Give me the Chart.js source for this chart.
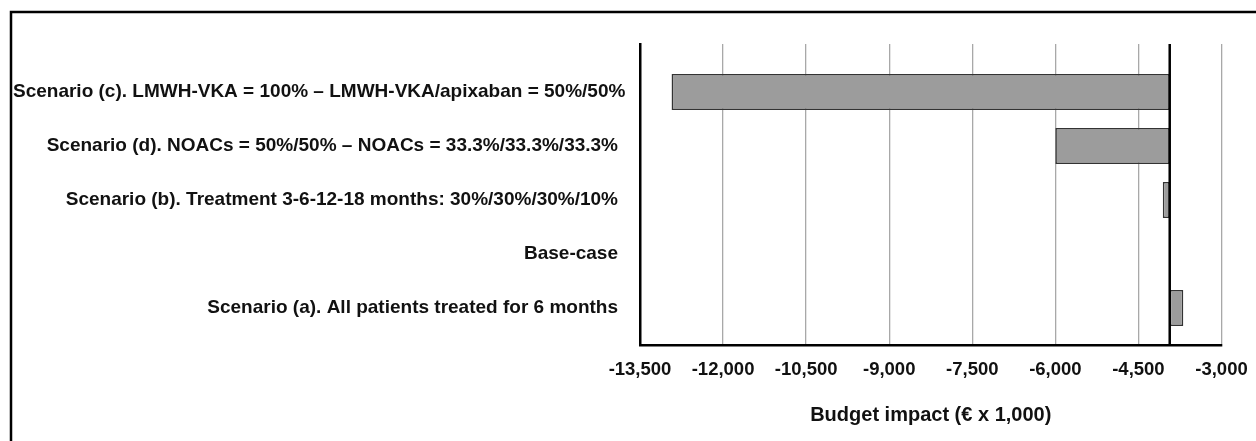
<!DOCTYPE html>
<html>
<head>
<meta charset="utf-8">
<script src="https://cdn.jsdelivr.net/npm/chart.js@4"></script>
<style>
  html, body { margin: 0; padding: 0; background: #fff; }
  #wrap { width: 1256px; height: 441px; position: relative; }
</style>
</head>
<body>
<div id="wrap"><canvas id="c" width="1256" height="441"></canvas></div>
<script>
const categories = [
  "Scenario (c). LMWH-VKA = 100% \u2013 LMWH-VKA/apixaban = 50%/50%",
  "Scenario (d). NOACs = 50%/50% \u2013 NOACs = 33.3%/33.3%/33.3%",
  "Scenario (b). Treatment 3-6-12-18 months: 30%/30%/30%/10%",
  "Base-case",
  "Scenario (a). All patients treated for 6 months"
];
const baseCaseValue = -3935;
const scenarioValues = [-12930, -6000, -4060, -3935, -3690];
const xTicks = [-13500, -12000, -10500, -9000, -7500, -6000, -4500, -3000];
const xTitle = "Budget impact (\u20ac x 1,000)";

const FONT = "'Liberation Sans', Arial, Helvetica, sans-serif";
const LABEL_SIZE = 19;

const framePlugin = {
  id: 'frame',
  beforeDraw(chart) {
    const ctx = chart.ctx;
    ctx.save();
    ctx.strokeStyle = '#000';
    ctx.lineWidth = 2.5;
    ctx.beginPath();
    ctx.moveTo(11, 460);
    ctx.lineTo(11, 12);
    ctx.lineTo(1300, 12);
    ctx.stroke();
    ctx.restore();
  }
};

// category labels, right-aligned next to the axis but kept inside the frame
const categoryLabelPlugin = {
  id: 'catLabels',
  afterDraw(chart) {
    const ys = chart.scales.y;
    const ctx = chart.ctx;
    ctx.save();
    ctx.font = 'bold ' + LABEL_SIZE + 'px ' + FONT;
    ctx.fillStyle = '#111';
    ctx.textBaseline = 'middle';
    ctx.textAlign = 'left';
    const rightEdge = ys.right - 22;
    const leftLimit = 13;
    categories.forEach((label, i) => {
      const w = ctx.measureText(label).width;
      const x = Math.max(rightEdge - w, leftLimit);
      ctx.fillText(label, x, ys.getPixelForValue(i));
    });
    ctx.restore();
  }
};

const baseLinePlugin = {
  id: 'baseLine',
  afterDatasetsDraw(chart) {
    const xs = chart.scales.x;
    const area = chart.chartArea;
    const px = xs.getPixelForValue(baseCaseValue);
    const ctx = chart.ctx;
    ctx.save();
    ctx.strokeStyle = '#000';
    ctx.lineWidth = 2.5;
    ctx.beginPath();
    ctx.moveTo(px, area.top);
    ctx.lineTo(px, area.bottom);
    ctx.stroke();
    ctx.restore();
  }
};

new Chart(document.getElementById('c'), {
  type: 'bar',
  data: {
    datasets: [{
      data: scenarioValues.map((v, i) => ({ x: [baseCaseValue, v], y: i })),
      backgroundColor: '#9c9c9c',
      borderColor: '#333',
      borderWidth: 1.5,
      borderSkipped: false,
      categoryPercentage: 1,
      barPercentage: 0.667
    }]
  },
  options: {
    indexAxis: 'y',
    responsive: false,
    animation: false,
    devicePixelRatio: 1,
    layout: { padding: { top: 44, right: 34.5, left: 0, bottom: 0 } },
    plugins: { legend: { display: false }, tooltip: { enabled: false } },
    scales: {
      x: {
        type: 'linear',
        min: -13500,
        max: -3000,
        afterBuildTicks: (s) => { s.ticks = xTicks.map(v => ({ value: v })); },
        afterFit: (s) => { s.height = 96; s.paddingLeft = 0; s.paddingRight = 0; },
        ticks: {
          color: '#111',
          font: { family: FONT, size: 18.5, weight: 'bold' },
          padding: 14,
          maxRotation: 0,
          autoSkip: false,
          callback: (v) => Number(v).toLocaleString('en-US')
        },
        grid: { color: '#a8a8a8', lineWidth: 1.3, drawTicks: false },
        border: { display: true, color: '#000', width: 2.5 },
        title: {
          display: true,
          text: xTitle,
          color: '#111',
          font: { family: FONT, size: 20, weight: 'bold' },
          padding: { top: 0, bottom: 14 }
        }
      },
      y: {
        type: 'linear',
        reverse: true,
        offset: false,
        min: -0.89,
        max: 4.685,
        afterBuildTicks: (s) => { s.ticks = categories.map((_, i) => ({ value: i })); },
        afterFit: (s) => { s.width = 640; s.paddingTop = 0; s.paddingBottom = 0; },
        ticks: { display: false },
        grid: { display: false, drawTicks: false, offset: false },
        border: { display: true, color: '#000', width: 2.5 }
      }
    }
  },
  plugins: [framePlugin, baseLinePlugin, categoryLabelPlugin]
});
</script>
</body>
</html>
